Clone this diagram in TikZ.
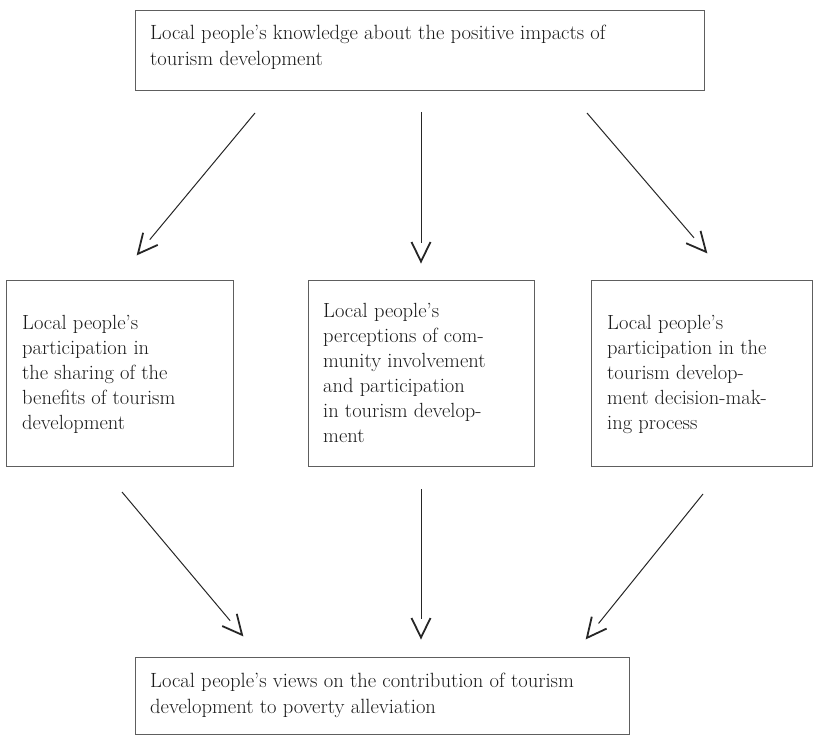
\documentclass[tikz,border=0pt]{standalone}
\usetikzlibrary{arrows.meta}
\definecolor{textcol}{HTML}{1A1A1A}
\definecolor{boxgray}{HTML}{5E5E5E}
\definecolor{linecol}{HTML}{262626}
\pgfdeclarearrow{
  name=OpenV,
  setup code={
    \pgfarrowssettipend{0pt}
    \pgfarrowssetlineend{-20pt}
    \pgfarrowssetvisualbackend{-20pt}
    \pgfarrowssetbackend{-20pt}
    \pgfarrowshullpoint{-20pt}{9pt}
    \pgfarrowshullpoint{-20pt}{-9pt}
    \pgfarrowshullpoint{0pt}{0pt}
  },
  drawing code={
    \pgfsetlinewidth{1.8pt}
    \pgfsetmiterjoin
    \pgfpathmoveto{\pgfqpoint{-21pt}{9.5pt}}
    \pgfpathlineto{\pgfqpoint{-1.5pt}{0pt}}
    \pgfpathlineto{\pgfqpoint{-21pt}{-9.5pt}}
    \pgfusepathqstroke
  }
}
\begin{document}
\begin{tikzpicture}[x=1pt,y=-1pt,
  box/.style={draw=boxgray, line width=1.3pt, inner sep=0pt, anchor=north west},
  txt/.style={inner sep=0pt, anchor=north west, align=left, text=textcol,
    font=\fontsize{20.6}{26}\selectfont},
  mtxt/.style={txt, font=\fontsize{20.5}{25}\selectfont},
  conn/.style={draw=linecol, line width=1pt, -{OpenV}}]
\useasboundingbox (0,0) rectangle (814,735);
% boxes
\node[box, minimum width=569pt, minimum height=80pt] (topbox) at (135,10) {};
\node[box, minimum width=227pt, minimum height=186pt] (leftbox) at (6,280) {};
\node[box, minimum width=226pt, minimum height=186pt] (midbox) at (308,280) {};
\node[box, minimum width=221pt, minimum height=186pt] (rightbox) at (591,280) {};
\node[box, minimum width=494pt, minimum height=77pt] (botbox) at (135,657) {};
% texts
\node[txt] (toptext) at (150,25) {Local people's knowledge about the positive impacts of\\tourism development};
\node[mtxt] (lefttext) at (22,315) {Local people's\\participation in\\the sharing of the\\benefits of tourism\\development};
\node[mtxt] (midtext) at (323,303) {Local people's\\perceptions of com-\\munity involvement\\and participation\\in tourism develop-\\ment};
\node[mtxt] (righttext) at (607,315) {Local people's\\participation in the\\tourism develop-\\ment decision-mak-\\ing process};
\node[txt] (bottext) at (150,673) {Local people's views on the contribution of tourism\\development to poverty alleviation};
% connector end points
\coordinate (t1s) at (255,113); \coordinate (t1e) at (137,255);
\coordinate (t2s) at (421,112); \coordinate (t2e) at (421,263);
\coordinate (t3s) at (587,113); \coordinate (t3e) at (707,253);
\coordinate (b1s) at (122,492); \coordinate (b1e) at (243,636);
\coordinate (b2s) at (421,489); \coordinate (b2e) at (421,639);
\coordinate (b3s) at (703,494); \coordinate (b3e) at (586,639);
\draw[conn] (t1s) -- (t1e);
\draw[conn] (t2s) -- (t2e);
\draw[conn] (t3s) -- (t3e);
\draw[conn] (b1s) -- (b1e);
\draw[conn] (b2s) -- (b2e);
\draw[conn] (b3s) -- (b3e);
\end{tikzpicture}
\end{document}
